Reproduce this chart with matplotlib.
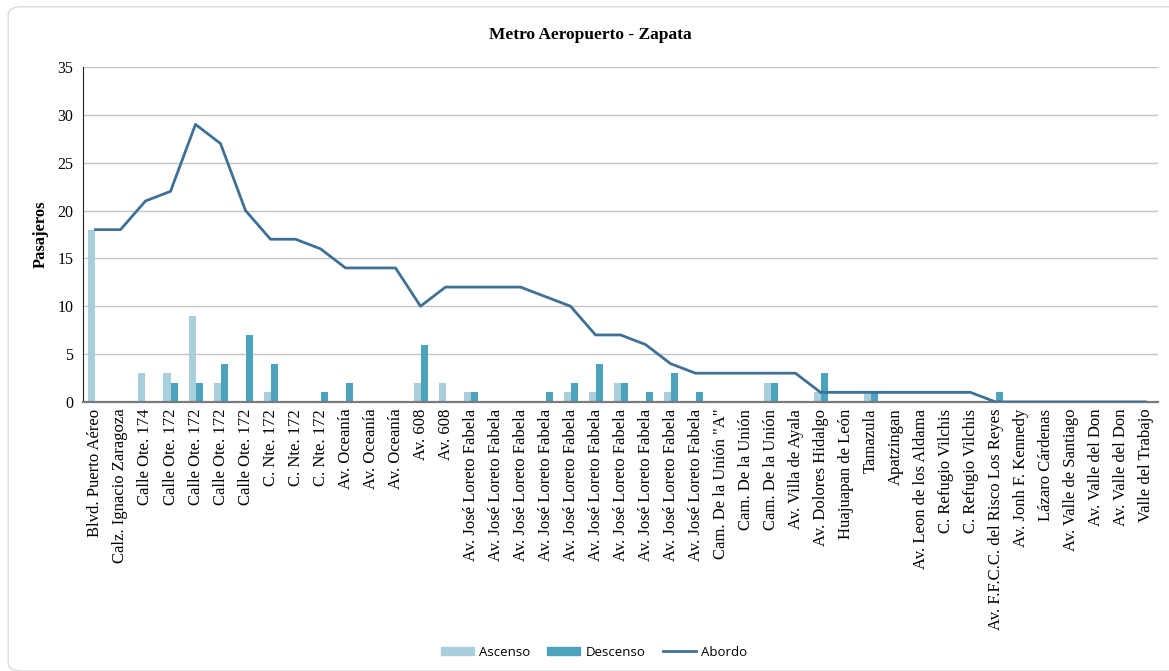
import numpy as np
import matplotlib
matplotlib.use("Agg")
import matplotlib.pyplot as plt
from matplotlib.patches import FancyBboxPatch, Patch
from matplotlib.lines import Line2D

# Stops along the route
paradas = [
    "Blvd. Puerto Aéreo", "Calz. Ignacio Zaragoza", "Calle Ote. 174",
    "Calle Ote. 172", "Calle Ote. 172", "Calle Ote. 172", "Calle Ote. 172",
    "C. Nte. 172", "C. Nte. 172", "C. Nte. 172",
    "Av. Oceanía", "Av. Oceanía", "Av. Oceanía",
    "Av. 608", "Av. 608",
] + ["Av. José Loreto Fabela"] * 10 + [
    "Cam. De la Unión \"A\"", "Cam. De la Unión", "Cam. De la Unión",
    "Av. Villa de Ayala", "Av. Dolores Hidalgo", "Huajuapan de León",
    "Tamazula", "Apatzingan", "Av. Leon de los Aldama",
    "C. Refugio Vilchis", "C. Refugio Vilchis",
    "Av. F.F.C.C. del Risco Los Reyes", "Av. Jonh F. Kennedy",
    "Lázaro Cárdenas", "Av. Valle de Santiago", "Av. Valle del Don",
    "Av. Valle del Don", "Valle del Trabajo",
]

ascenso = [18, 0, 3, 3, 9, 2, 0, 1, 0, 0, 0, 0, 0, 2, 2,
           1, 0, 0, 0, 1, 1, 2, 0, 1, 0,
           0, 0, 2, 0, 1, 0, 1, 0, 0, 0, 0, 0, 0, 0, 0, 0, 0, 0]
descenso = [0, 0, 0, 2, 2, 4, 7, 4, 0, 1, 2, 0, 0, 6, 0,
            1, 0, 0, 1, 2, 4, 2, 1, 3, 1,
            0, 0, 2, 0, 3, 0, 1, 0, 0, 0, 0, 1, 0, 0, 0, 0, 0, 0]
abordo = [18, 18, 21, 22, 29, 27, 20, 17, 17, 16, 14, 14, 14, 10, 12,
          12, 12, 12, 11, 10, 7, 7, 6, 4, 3,
          3, 3, 3, 3, 1, 1, 1, 1, 1, 1, 1, 0, 0, 0, 0, 0, 0, 0]

C_ASC = "#a9cfdc"
C_DESC = "#4ba3bd"
C_LINE = "#3f7096"
SERIF = ["Liberation Serif", "DejaVu Serif"]

fig = plt.figure(figsize=(11.69, 6.71), dpi=100)

# card frame
frame = FancyBboxPatch((0.007, 0.0), 1.05, 0.99, boxstyle="round,pad=0,rounding_size=0.012",
                       transform=fig.transFigure, facecolor="white", edgecolor="#dcdcdc",
                       linewidth=1.0, zorder=-10)
fig.patches.append(frame)

ax = fig.add_axes([0.071, 0.401, 0.9196, 0.4992])
x = np.arange(len(paradas))
w = 0.28
ax.bar(x - w / 2, ascenso, width=w, color=C_ASC, zorder=2)
ax.bar(x + w / 2, descenso, width=w, color=C_DESC, zorder=2)
ax.plot(x, abordo, color=C_LINE, linewidth=2.0, zorder=3)

ax.set_xlim(-0.5, len(paradas) - 0.5)
ax.set_ylim(0, 35)
ax.set_yticks(range(0, 36, 5))
ax.yaxis.grid(True, color="#c4c4c4", linewidth=1.0, zorder=0)
ax.set_axisbelow(True)
ax.set_xticks(x)
ax.set_xticklabels(paradas, rotation=90, fontsize=12, family=SERIF, va="top")
for lab in ax.get_yticklabels():
    lab.set_family(SERIF)
    lab.set_fontsize(11.5)
ax.tick_params(axis="both", length=0, pad=7)
ax.tick_params(axis="x", pad=5)
for s in ["top", "right"]:
    ax.spines[s].set_visible(False)
ax.spines["left"].set_color("#222222")
ax.spines["bottom"].set_color("#7a7a7a")
ax.spines["bottom"].set_linewidth(1.6)
ax.set_ylabel("Pasajeros", fontsize=12, fontweight="bold", family=SERIF, labelpad=6)

fig.text(0.505, 0.948, "Metro Aeropuerto - Zapata", ha="center", va="center",
         fontsize=12.5, fontweight="bold", family=SERIF)

handles = [Patch(color=C_ASC), Patch(color=C_DESC), Line2D([], [], color=C_LINE, linewidth=2)]
fig.legend(handles, ["Ascenso", "Descenso", "Abordo"], loc="center", ncol=3,
           bbox_to_anchor=(0.508, 0.028), frameon=False,
           prop={"family": "Open Sans", "size": 9.5}, handlelength=2.5,
           handleheight=0.6, handletextpad=0.4, columnspacing=1.3)

fig.savefig("out.png", dpi=100)
